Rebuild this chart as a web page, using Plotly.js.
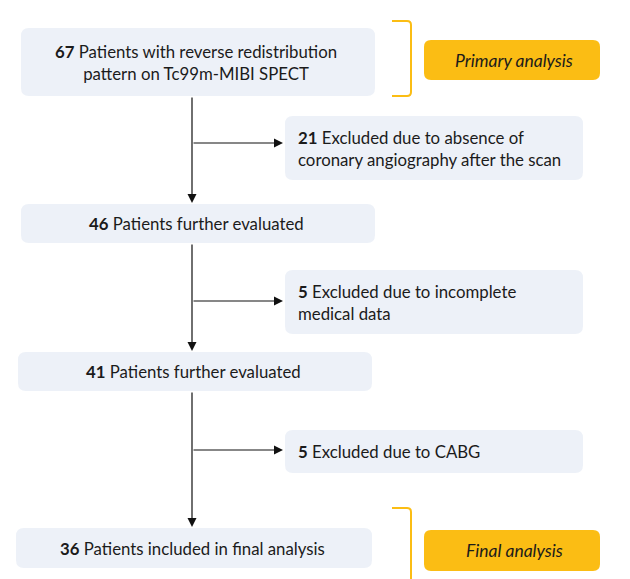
<!DOCTYPE html>
<html>
<head>
<meta charset="utf-8">
<script src="https://cdn.plot.ly/plotly-3.0.1.min.js"></script>
<style>html,body{margin:0;padding:0;background:#fff;}#chart{width:630px;height:579px;}</style>
</head>
<body>
<div id="chart"></div>
<script>
// ---- data ----
const mainCounts = [67, 46, 41, 36];
const mainLabels = [
  "Patients with reverse redistribution<br>pattern on Tc99m-MIBI SPECT",
  "Patients further evaluated",
  "Patients further evaluated",
  "Patients included in final analysis"
];
const exclCounts = [21, 5, 5];
const exclLabels = [
  "Excluded due to absence of<br>coronary angiography after the scan",
  "Excluded due to incomplete<br>medical data",
  "Excluded due to CABG"
];
const stageLabels = ["Primary analysis", "Final analysis"];

// ---- layout geometry ----
const mainBoxes = [
  {x0: 21, x1: 375, y0: 28, y1: 96},
  {x0: 21, x1: 375, y0: 204, y1: 243},
  {x0: 18, x1: 372, y0: 352, y1: 391},
  {x0: 16, x1: 372, y0: 528, y1: 568}
];
const exclBoxes = [
  {x0: 285, x1: 583, y0: 116, y1: 180},
  {x0: 285, x1: 583, y0: 270, y1: 334},
  {x0: 285, x1: 583, y0: 430, y1: 473}
];
const branchY = [143, 301, 450];
const stageBoxes = [
  {x0: 424, x1: 600, y0: 40, y1: 80},
  {x0: 424, x1: 600, y0: 530, y1: 571}
];
const spineX = 192;
const boxFill = "#EDF1F8";
const yellow = "#FBBD14";
const textColor = "#1b1b1b";
const font = "Lato, 'Open Sans', sans-serif";
const fs = 16.8;

function rr(b, r) {
  const {x0, x1, y0, y1} = b;
  return `M ${x0 + r},${y0} L ${x1 - r},${y0} Q ${x1},${y0} ${x1},${y0 + r} L ${x1},${y1 - r} Q ${x1},${y1} ${x1 - r},${y1} L ${x0 + r},${y1} Q ${x0},${y1} ${x0},${y1 - r} L ${x0},${y0 + r} Q ${x0},${y0} ${x0 + r},${y0} Z`;
}

const shapes = [];
const annotations = [];

mainBoxes.forEach((b, i) => {
  shapes.push({type: "path", xref: "x", yref: "y", path: rr(b, 8), fillcolor: boxFill, line: {width: 0}, layer: "below"});
  annotations.push({
    x: (b.x0 + b.x1) / 2 - 2, y: (b.y0 + b.y1) / 2, xref: "x", yref: "y",
    text: `<b>${mainCounts[i]}</b> ${mainLabels[i]}`, showarrow: false,
    font: {family: font, size: fs, color: textColor}, align: "center"
  });
});
exclBoxes.forEach((b, i) => {
  shapes.push({type: "path", xref: "x", yref: "y", path: rr(b, 8), fillcolor: boxFill, line: {width: 0}, layer: "below"});
  annotations.push({
    x: b.x0 + 11, y: (b.y0 + b.y1) / 2, xref: "x", yref: "y", xanchor: "left",
    text: `<b>${exclCounts[i]}</b> ${exclLabels[i]}`, showarrow: false,
    font: {family: font, size: fs, color: textColor}, align: "left"
  });
});
stageBoxes.forEach((b, i) => {
  shapes.push({type: "path", xref: "x", yref: "y", path: rr(b, 7), fillcolor: yellow, line: {width: 0}, layer: "below"});
  annotations.push({
    x: (b.x0 + b.x1) / 2 + 2, y: (b.y0 + b.y1) / 2, xref: "x", yref: "y",
    text: `<i>${stageLabels[i]}</i>`, showarrow: false,
    font: {family: font, size: 17.5, color: textColor}
  });
});

// vertical arrows between main boxes
for (let i = 0; i < mainBoxes.length - 1; i++) {
  annotations.push({
    x: spineX, y: mainBoxes[i + 1].y0 - 1, ax: spineX, ay: mainBoxes[i].y1,
    xref: "x", yref: "y", axref: "x", ayref: "y", text: "", showarrow: true,
    arrowhead: 2, arrowsize: 1.5, arrowwidth: 1.2, arrowcolor: "#111"
  });
}
// horizontal branch arrows
exclBoxes.forEach((b, i) => {
  annotations.push({
    x: b.x0 - 2, y: branchY[i], ax: spineX, ay: branchY[i],
    xref: "x", yref: "y", axref: "x", ayref: "y", text: "", showarrow: true,
    arrowhead: 2, arrowsize: 1.5, arrowwidth: 1.2, arrowcolor: "#111"
  });
});

// brackets
shapes.push({type: "path", xref: "x", yref: "y", path: "M 392,21 L 407,21 Q 411,21 411,25 L 411,92 Q 411,96 407,96 L 392,96", line: {color: yellow, width: 2}});
shapes.push({type: "path", xref: "x", yref: "y", path: "M 392,508 L 407,508 Q 411,508 411,512 L 411,582", line: {color: yellow, width: 2}});

Plotly.newPlot("chart", [], {
  width: 630, height: 579,
  margin: {l: 0, r: 0, t: 0, b: 0},
  paper_bgcolor: "#fff", plot_bgcolor: "#fff",
  xaxis: {range: [0, 630], visible: false, fixedrange: true},
  yaxis: {range: [579, 0], visible: false, fixedrange: true},
  shapes: shapes, annotations: annotations, showlegend: false
}, {displayModeBar: false, staticPlot: true});
</script>
</body>
</html>
